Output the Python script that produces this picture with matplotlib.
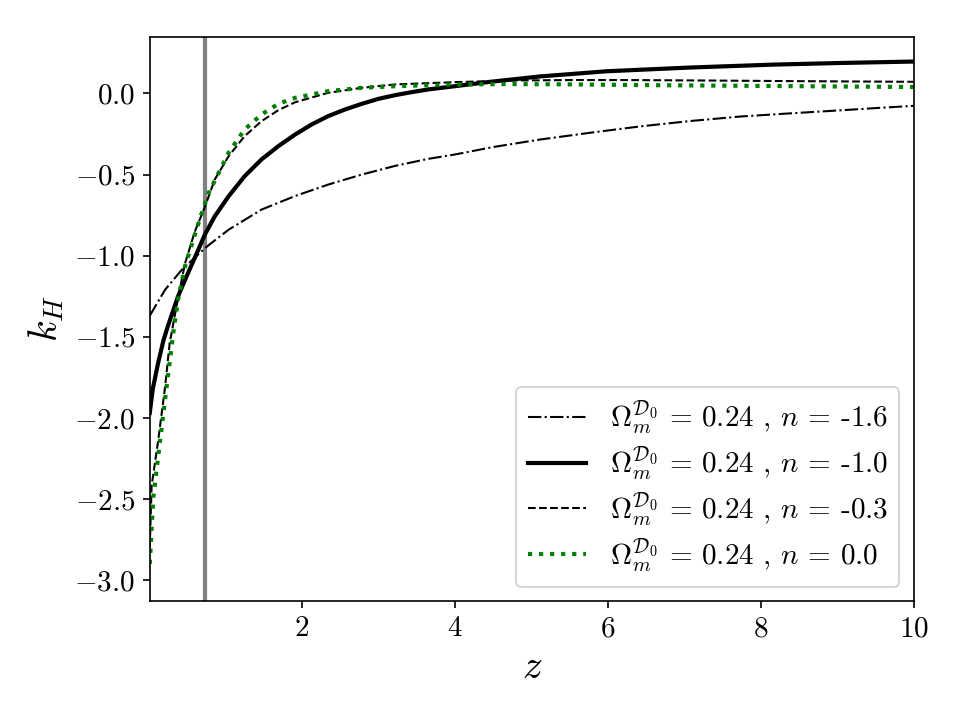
import numpy as np
import matplotlib
matplotlib.use("Agg")
import matplotlib.pyplot as plt

plt.rcParams['mathtext.fontset'] = 'cm'
plt.rcParams['font.family'] = 'serif'
plt.rcParams['font.serif'] = ['cmr10', 'DejaVu Serif']
plt.rcParams['axes.formatter.use_mathtext'] = True

# values
z_n16 = [0.01, 0.21, 0.43, 0.71, 0.78, 1.04, 1.47, 1.91, 2.34, 2.78, 3.22, 3.65, 4.0,
         4.5, 5.11, 5.8, 6.42, 7.07, 7.73, 8.4, 9.03, 9.5, 10.0]
kh_n16 = [-1.37, -1.21, -1.086, -0.963, -0.935, -0.84, -0.716, -0.632, -0.562, -0.50, -0.446, -0.403, -0.376,
          -0.33, -0.284, -0.24, -0.203, -0.17, -0.142, -0.122, -0.104, -0.09, -0.076]

z_n10 = [0.01, 0.05, 0.12, 0.19, 0.25, 0.38, 0.51, 0.62, 0.73, 0.86, 1.04, 1.25, 1.47, 1.69, 1.91,
         2.13, 2.34, 2.56, 2.78, 3.0, 3.22, 3.43, 3.65, 4.0, 4.46, 5.11, 5.98, 7.07, 8.16, 9.03, 10.0]
kh_n10 = [-1.97, -1.82, -1.66, -1.52, -1.43, -1.25, -1.107, -0.99, -0.87, -0.757, -0.634, -0.51, -0.407, -0.325, -0.253,
          -0.19, -0.14, -0.099, -0.064, -0.033, -0.01, 0.008, 0.025, 0.045, 0.072, 0.105, 0.137, 0.16, 0.178, 0.188, 0.197]

z_n03 = [0.01, 0.034, 0.12, 0.21, 0.27, 0.38, 0.47, 0.60, 0.73, 0.86, 1.04, 1.25, 1.47, 1.69, 1.91,
         2.34, 2.78, 3.22, 4.0, 4.76, 5.55, 6.16, 7.29, 8.5, 10.0]
kh_n03 = [-2.80, -2.42, -2.14, -1.81, -1.54, -1.26, -1.05, -0.85, -0.70, -0.53, -0.387, -0.263, -0.171, -0.103, -0.054,
          0.004, 0.035, 0.056, 0.07, 0.08, 0.083, 0.083, 0.08, 0.076, 0.072]

z_n00 = [0.01, 0.056, 0.14, 0.23, 0.32, 0.38, 0.47, 0.60, 0.69, 0.78, 0.91, 1.04, 1.25, 1.47, 1.69, 1.91,
         2.34, 2.78, 3.22, 4.0, 4.76, 5.55, 6.16, 7.29, 8.5, 10.0]
kh_n00 = [-2.90, -2.49, -2.16, -1.81, -1.467, -1.27, -1.066, -0.87, -0.737, -0.613, -0.49, -0.366, -0.222, -0.13, -0.064, -0.027,
          0.014, 0.035, 0.045, 0.056, 0.058, 0.056, 0.053, 0.049, 0.045, 0.04]

z_ref = 0.73
labels = [r'$\Omega_m^{\mathcal{D}_0}$ = 0.24 , $n$ = -1.6',
          r'$\Omega_m^{\mathcal{D}_0}$ = 0.24 , $n$ = -1.0',
          r'$\Omega_m^{\mathcal{D}_0}$ = 0.24 , $n$ = -0.3',
          r'$\Omega_m^{\mathcal{D}_0}$ = 0.24 , $n$ = 0.0']

fig, ax = plt.subplots(figsize=(6.4, 4.8), dpi=150)
fig.subplots_adjust(left=0.156, right=0.952, top=0.949, bottom=0.165)

ax.axvline(z_ref, color='gray', lw=2)
ax.plot(z_n16, kh_n16, 'k-.', lw=1, label=labels[0])
ax.plot(z_n10, kh_n10, 'k-', lw=2, label=labels[1])
ax.plot(z_n03, kh_n03, 'k--', lw=1, label=labels[2])
ax.plot(z_n00, kh_n00, color='green', ls=':', lw=2, label=labels[3])

ax.set_xlim(0.01, 10)
ax.set_ylim(-3.13, 0.35)
ax.set_yticks(np.arange(-3.0, 0.01, 0.5))
ax.set_xticks([2, 4, 6, 8, 10])
ax.tick_params(labelsize=14)
ax.set_xlabel(r'$z$', fontsize=19)
ax.set_ylabel(r'$k_H$', fontsize=19)
ax.legend(loc='lower right', fontsize=14, labelspacing=0.25)

fig.savefig('out.png')
